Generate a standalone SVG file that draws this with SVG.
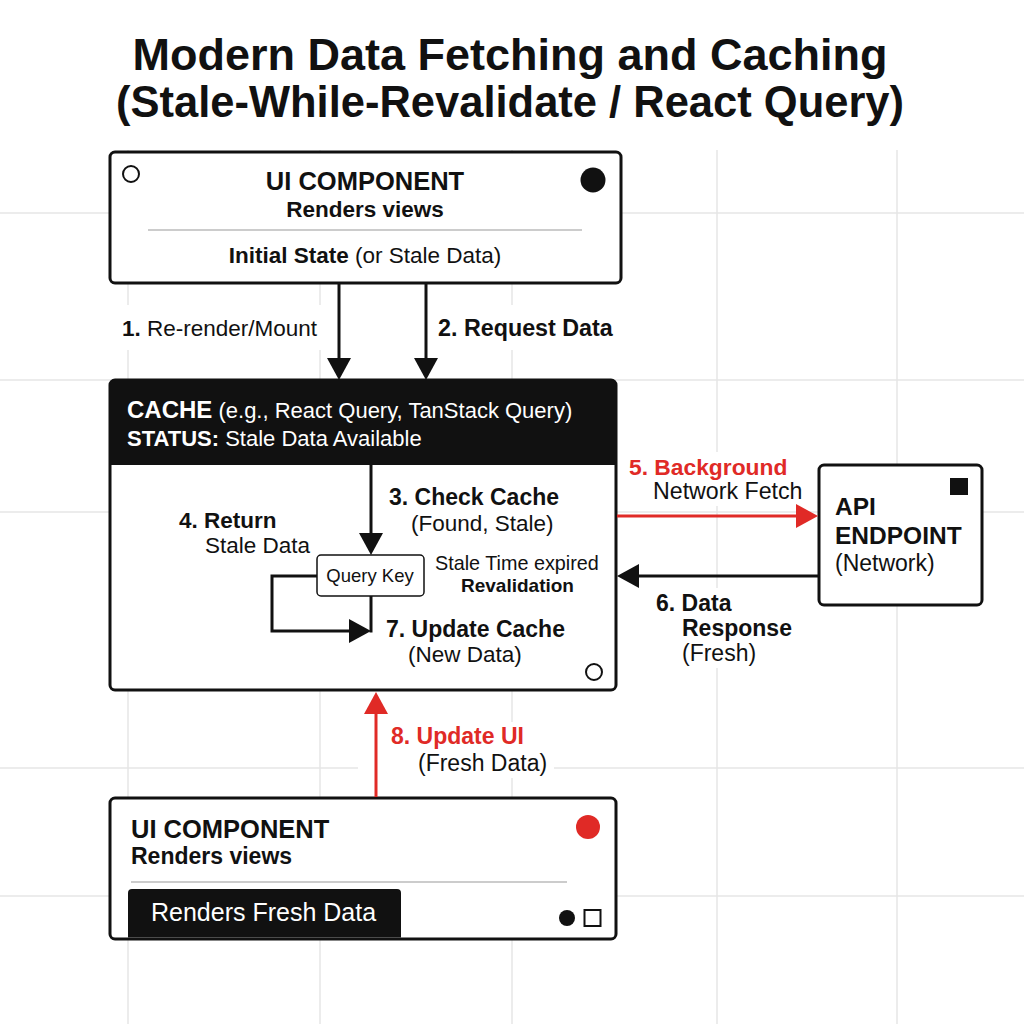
<svg xmlns="http://www.w3.org/2000/svg" width="1024" height="1024" viewBox="0 0 1024 1024">
<style>
text{font-family:"Liberation Sans",Arial,Helvetica,sans-serif;fill:#111}
.b{font-weight:bold}
.red{fill:#e02a26}
.w{fill:#fff}
.box{fill:#fff;stroke:#111;stroke-width:3}
.grid line{stroke:#e6e6e6;stroke-width:1.5}
.sep{stroke:#9a9a9a;stroke-width:1.2}
.k{stroke:#111;stroke-width:3;fill:none}
.r{stroke:#e02a26;stroke-width:3;fill:none}
.halo{fill:#fff}
</style>
<defs>
<marker id="ak" viewBox="0 0 22 24" refX="12" refY="12" markerWidth="22" markerHeight="24" markerUnits="userSpaceOnUse" orient="auto"><path d="M0,0 L22,12 L0,24 Z" fill="#111"/></marker>
<marker id="ar" viewBox="0 0 22 24" refX="12" refY="12" markerWidth="22" markerHeight="24" markerUnits="userSpaceOnUse" orient="auto"><path d="M0,0 L22,12 L0,24 Z" fill="#e02a26"/></marker>
</defs>
<rect width="1024" height="1024" fill="#fff"/>
<g class="grid">
<line x1="128" y1="150" x2="128" y2="1024"/>
<line x1="320" y1="150" x2="320" y2="1024"/>
<line x1="512" y1="150" x2="512" y2="1024"/>
<line x1="717" y1="150" x2="717" y2="1024"/>
<line x1="897" y1="150" x2="897" y2="1024"/>
<line x1="0" y1="213" x2="1024" y2="213"/>
<line x1="0" y1="380" x2="1024" y2="380"/>
<line x1="0" y1="512" x2="1024" y2="512"/>
<line x1="0" y1="768" x2="1024" y2="768"/>
<line x1="0" y1="896" x2="1024" y2="896"/>
</g>
<g id="label-halos">
<rect class="halo" x="115" y="305" width="215" height="45"/>
<rect class="halo" x="432" y="305" width="185" height="45"/>
<rect class="halo" x="624" y="452" width="186" height="54"/>
<rect class="halo" x="650" y="588" width="150" height="80"/>
<rect class="halo" x="358" y="722" width="196" height="56"/>
</g>
<g id="title">
<text x="510" y="70" text-anchor="middle" class="b" font-size="45">Modern Data Fetching and Caching</text>
<text x="510" y="117" text-anchor="middle" class="b" font-size="43.5">(Stale-While-Revalidate / React Query)</text>
</g>
<g id="ui-top">
<rect class="box" x="110" y="152" width="511" height="131" rx="5"/>
<circle cx="131" cy="174" r="8" fill="#fff" stroke="#111" stroke-width="2"/>
<circle cx="593" cy="180" r="12.5" fill="#111"/>
<text x="365" y="190" text-anchor="middle" class="b" font-size="25.5">UI COMPONENT</text>
<text x="365" y="217" text-anchor="middle" class="b" font-size="22.5">Renders views</text>
<line class="sep" x1="148" y1="230" x2="582" y2="230"/>
<text x="365" y="263" text-anchor="middle" font-size="22.5"><tspan class="b">Initial State</tspan> (or Stale Data)</text>
</g>
<g id="cache">
<rect class="box" x="110" y="380" width="506" height="310" rx="5"/>
<path d="M115,380 H611 A5,5 0 0 1 616,385 V465 H110 V385 A5,5 0 0 1 115,380 Z" fill="#111"/>
<text x="127" y="418" font-size="22" class="w"><tspan class="b" font-size="24">CACHE</tspan> (e.g., React Query, TanStack Query)</text>
<text x="127" y="446" font-size="22" class="w"><tspan class="b">STATUS:</tspan> Stale Data Available</text>
<circle cx="594" cy="672" r="8" fill="#fff" stroke="#111" stroke-width="2"/>
</g>
<g id="query-key">
<rect x="317" y="555" width="107" height="41" rx="4" fill="#fff" stroke="#111" stroke-width="1.5"/>
<text x="370" y="582" text-anchor="middle" font-size="18.5">Query Key</text>
</g>
<g id="api">
<rect class="box" x="819" y="465" width="163" height="140" rx="5"/>
<rect x="950" y="478" width="18" height="17" fill="#111"/>
<text x="835" y="515" class="b" font-size="24.5">API</text>
<text x="835" y="544" class="b" font-size="24.5">ENDPOINT</text>
<text x="835" y="571" font-size="23">(Network)</text>
</g>
<g id="ui-bottom">
<rect class="box" x="110" y="798" width="506" height="141" rx="5"/>
<circle cx="588" cy="827" r="12" fill="#e02a26"/>
<text x="131" y="838" class="b" font-size="25.5">UI COMPONENT</text>
<text x="131" y="864" class="b" font-size="23">Renders views</text>
<line class="sep" x1="131" y1="882" x2="567" y2="882"/>
<path d="M128,937.5 V893 A4,4 0 0 1 132,889 H397 A4,4 0 0 1 401,893 V937.5 Z" fill="#111"/>
<text x="151" y="921" font-size="25" class="w">Renders Fresh Data</text>
<circle cx="567" cy="918" r="8" fill="#111"/>
<rect x="584.5" y="910" width="16" height="16" fill="#fff" stroke="#111" stroke-width="2"/>
</g>
<g id="connectors">
<line class="k" x1="339" y1="284" x2="339" y2="370" marker-end="url(#ak)"/>
<line class="k" x1="426" y1="284" x2="426" y2="370" marker-end="url(#ak)"/>
<line class="k" x1="371" y1="465" x2="371" y2="545" marker-end="url(#ak)"/>
<path class="k" d="M317,576 H272 V631 H361" marker-end="url(#ak)"/>
<line class="k" x1="371" y1="596" x2="371" y2="632.5"/>
<line class="r" x1="617" y1="516" x2="808" y2="516" marker-end="url(#ar)"/>
<line class="k" x1="818" y1="576" x2="627" y2="576" marker-end="url(#ak)"/>
<line class="r" x1="376" y1="797" x2="376" y2="702" marker-end="url(#ar)"/>
</g>
<g id="labels">
<text x="122" y="336" font-size="22.5"><tspan class="b">1.</tspan> Re-render/Mount</text>
<text x="438" y="336" class="b" font-size="23.3">2. Request Data</text>
<text x="389" y="505" class="b" font-size="23">3. Check Cache</text>
<text x="411" y="531" font-size="22.5">(Found, Stale)</text>
<text x="179" y="528" class="b" font-size="22.5">4. Return</text>
<text x="205" y="553" font-size="22.5">Stale Data</text>
<text x="435" y="570" font-size="19.8">Stale Time expired</text>
<text x="461" y="592" class="b" font-size="19">Revalidation</text>
<text x="386" y="637" class="b" font-size="23">7. Update Cache</text>
<text x="408" y="662" font-size="22.5">(New Data)</text>
<text x="629" y="475" class="b red" font-size="22.8">5. Background</text>
<text x="653" y="499" font-size="23.2">Network Fetch</text>
<text x="656" y="611" class="b" font-size="23">6. Data</text>
<text x="682" y="636" class="b" font-size="23">Response</text>
<text x="682" y="661" font-size="23">(Fresh)</text>
<text x="391" y="744" class="b red" font-size="23">8. Update UI</text>
<text x="418" y="771" font-size="23">(Fresh Data)</text>
</g>
</svg>
